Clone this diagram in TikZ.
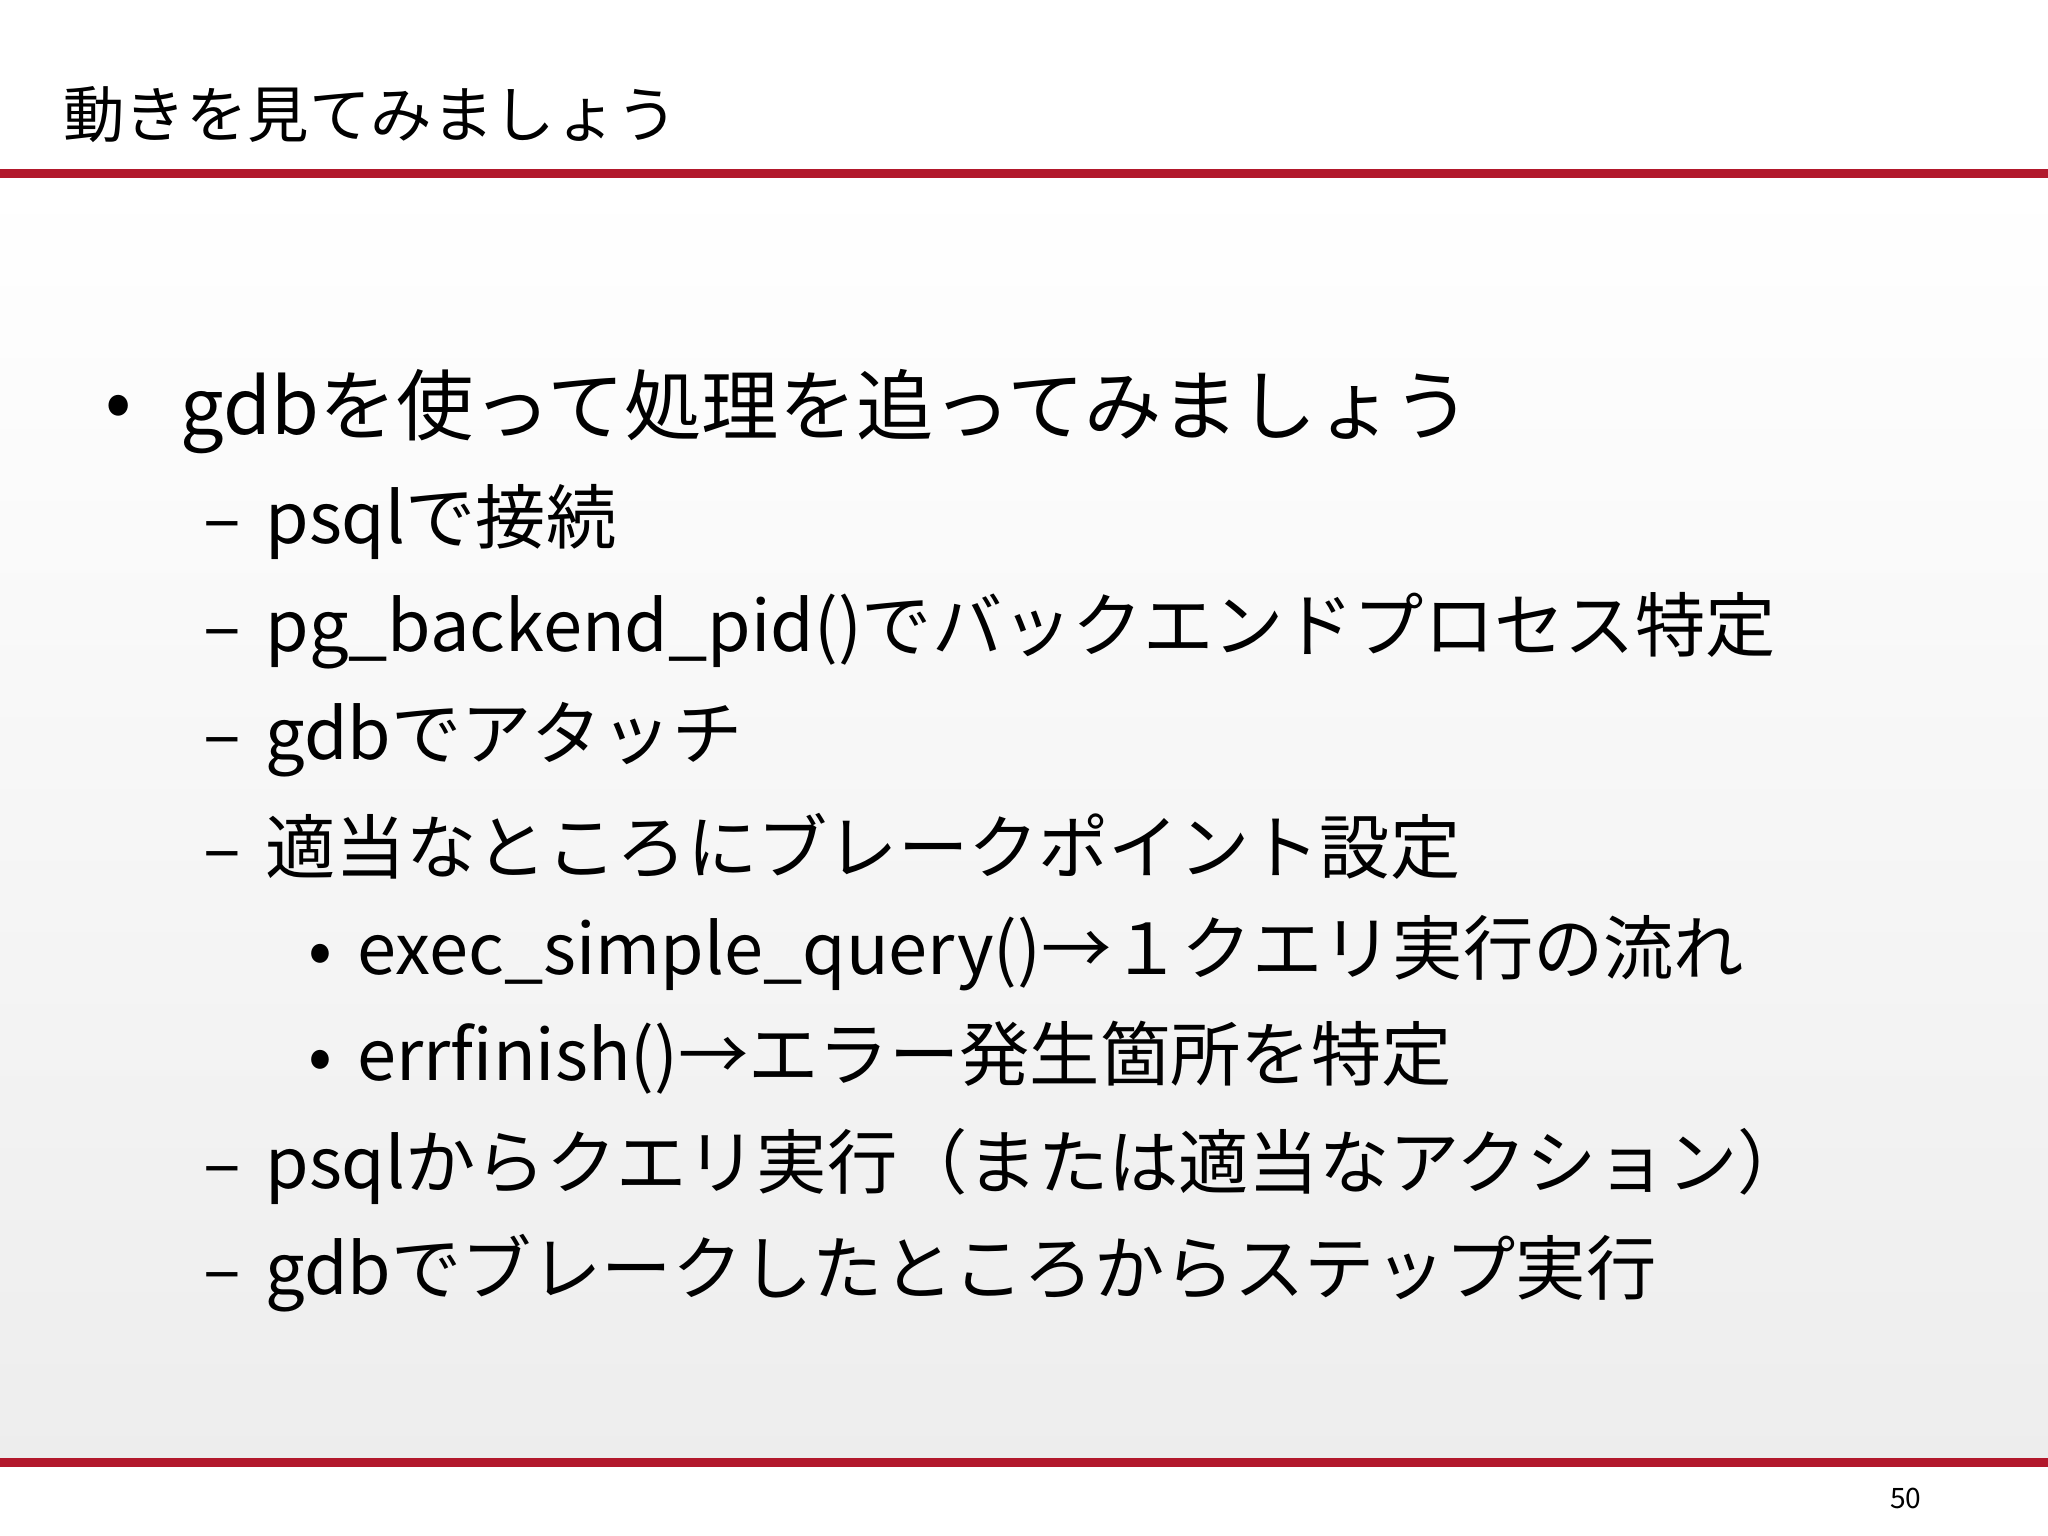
\documentclass[tikz,border=0pt]{standalone}
\usepackage{fontspec}
\setmainfont{Noto Sans CJK JP}
\usepackage{tikz}
\definecolor{rulered}{RGB}{178,24,44}
\tikzstyle{title}=[anchor=west,inner sep=0pt,font=\fontsize{17.5}{20}\selectfont]
\tikzstyle{lvlone}=[anchor=west,inner sep=0pt,font=\fontsize{22}{26}\selectfont]
\tikzstyle{lvltwo}=[anchor=west,inner sep=0pt,font=\fontsize{20}{24}\selectfont]
\tikzstyle{redrule}=[draw=rulered,line width=2.6pt]
\newcommand{\dsh}{–\hspace{0.35em}}

\begin{document}
\begin{tikzpicture}[x=0.013061cm,y=-0.013061cm]
		\useasboundingbox (0,0) rectangle (1568,1176);
		\fill[white] (0,0) rectangle (1568,1176);
		% slide body
		\shade[top color=white,bottom color=black!7] (0,136) rectangle (1568,1118);
		\draw[redrule] (0,133) -- (1568,133);
		\draw[redrule] (0,1120) -- (1568,1120);

		% title and page number
		\node[title] (title) at (48,88) {動きを見てみましょう};
		\node[anchor=center,font=\fontsize{8}{10}\selectfont] (page) at (1459,1147) {50};

		% bullets
		\node[lvlone] (b1) at (80,315) {•};
		\node[lvlone] (t1) at (138,315) {gdbを使って処理を追ってみましょう};
		\node[lvltwo] (t2) at (155,400) {\dsh psqlで接続};
		\node[lvltwo] (t3) at (155,483) {\dsh pg\_backend\_pid()でバックエンドプロセス特定};
		\node[lvltwo] (t4) at (155,566) {\dsh gdbでアタッチ};
		\node[lvltwo] (t5) at (155,648) {\dsh 適当なところにブレークポイント設定};
		\node[lvltwo] (t6) at (236,730) {•\hspace{0.35em}exec\_simple\_query()→１クエリ実行の流れ};
		\node[lvltwo] (t7) at (236,810) {•\hspace{0.35em}errfinish()→エラー発生箇所を特定};
		\node[lvltwo] (t8) at (155,893) {\dsh psqlからクエリ実行（または適当なアクション）};
		\node[lvltwo] (t9) at (155,975) {\dsh gdbでブレークしたところからステップ実行};

\end{tikzpicture}
\end{document}
